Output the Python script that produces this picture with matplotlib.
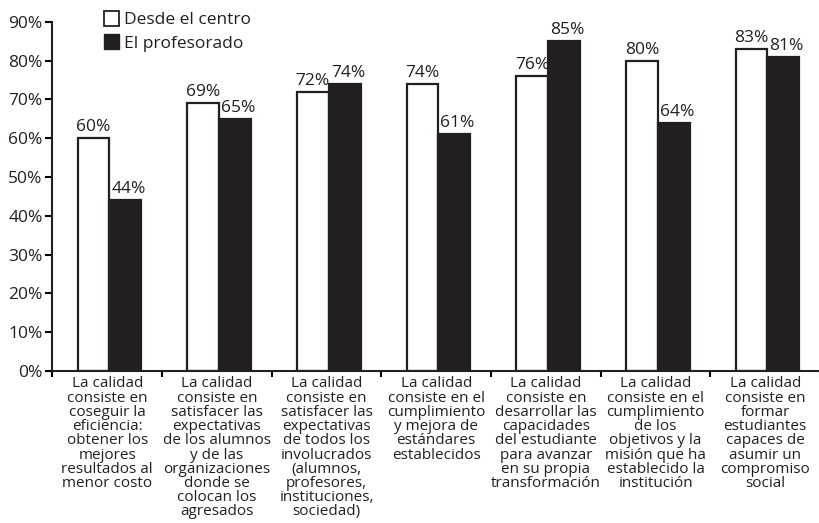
import numpy as np
import matplotlib.pyplot as plt
from matplotlib.patches import Patch

plt.rcParams['font.family'] = ['Open Sans', 'DejaVu Sans']

categorias = [
    "La calidad\nconsiste en\ncoseguir la\neficiencia:\nobtener los\nmejores\nresultados al\nmenor costo",
    "La calidad\nconsiste en\nsatisfacer las\nexpectativas\nde los alumnos\ny de las\norganizaciones\ndonde se\ncolocan los\nagresados",
    "La calidad\nconsiste en\nsatisfacer las\nexpectativas\nde todos los\ninvolucrados\n(alumnos,\nprofesores,\ninstituciones,\nsociedad)",
    "La calidad\nconsiste en el\ncumplimiento\ny mejora de\nestándares\nestablecidos",
    "La calidad\nconsiste en\ndesarrollar las\ncapacidades\ndel estudiante\npara avanzar\nen su propia\ntransformación",
    "La calidad\nconsiste en el\ncumplimiento\nde los\nobjetivos y la\nmisión que ha\nestablecido la\ninstitución",
    "La calidad\nconsiste en\nformar\nestudiantes\ncapaces de\nasumir un\ncompromiso\nsocial",
]
desde_centro = [60, 69, 72, 74, 76, 80, 83]
profesorado = [44, 65, 74, 61, 85, 64, 81]
yticks = [0, 10, 20, 30, 40, 50, 60, 70, 80, 90]

ink = '#231f20'
fig = plt.figure(figsize=(8.19, 5.23), dpi=100)
ax = fig.add_axes([0.064, 0.291, 0.94, 0.667])

x = np.arange(len(categorias))
w = 0.29
off = 0.02
ax.bar(x - w / 2 + off, desde_centro, w, facecolor='white', edgecolor=ink, linewidth=1.6)
ax.bar(x + w / 2 + off, profesorado, w, facecolor=ink, edgecolor=ink, linewidth=1.6)

for xi, v in zip(x, desde_centro):
    ax.text(xi - w / 2 + off, v + 0.8, f"{v}%", ha='center', va='bottom', fontsize=12.5, color=ink)
for xi, v in zip(x, profesorado):
    ax.text(xi + w / 2 + off + 0.03, v + 0.8, f"{v}%", ha='center', va='bottom', fontsize=12.5, color=ink)

ax.set_ylim(0, 90)
ax.set_xlim(-0.5, len(categorias) - 0.48)
ax.set_yticks(yticks)
ax.set_yticklabels([f"{t}%" for t in yticks], fontsize=12.5, color=ink)
ax.set_xticks(np.arange(len(categorias) + 1) - 0.5)
ax.set_xticklabels([])
ax.set_xticks(x, minor=True)
ax.set_xticklabels(categorias, minor=True, fontsize=11, linespacing=0.93, va='top', color=ink)
ax.tick_params(axis='x', which='minor', length=0, pad=4)
ax.tick_params(axis='x', which='major', length=4, width=1.5, direction='out')
ax.tick_params(axis='y', length=5, width=1.5, pad=2)

for s in ['top', 'right']:
    ax.spines[s].set_visible(False)
for s in ['left', 'bottom']:
    ax.spines[s].set_linewidth(1.5)
    ax.spines[s].set_color(ink)

handles = [Patch(facecolor='white', edgecolor=ink, linewidth=1.3, label='Desde el centro'),
           Patch(facecolor=ink, edgecolor=ink, label='El profesorado')]
fig.legend(handles=handles, loc='upper left', bbox_to_anchor=(0.118, 0.992), frameon=False,
           fontsize=12.5, handlelength=0.9, handleheight=0.9, handletextpad=0.25,
           labelspacing=0.35, borderaxespad=0, labelcolor=ink)

fig.savefig('out.png', dpi=100)
